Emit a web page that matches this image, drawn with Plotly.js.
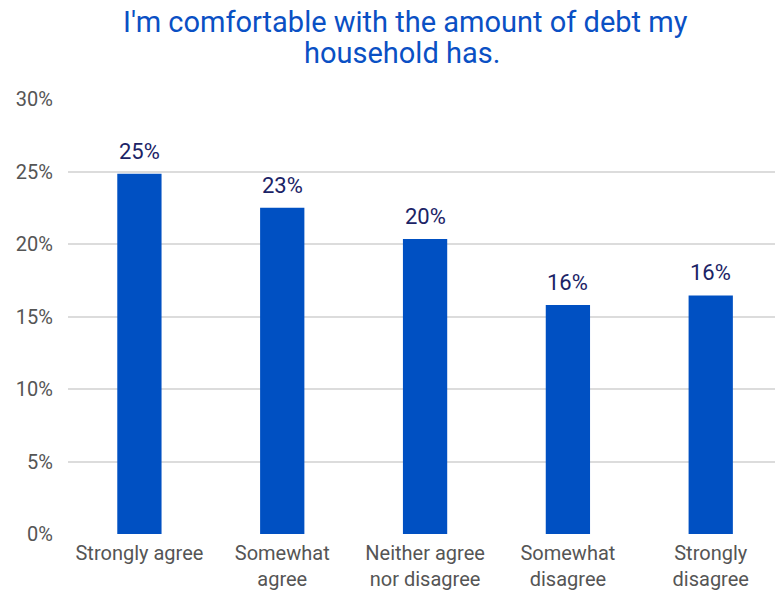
<!DOCTYPE html>
<html>
<head>
<meta charset="utf-8">
<script src="https://cdn.plot.ly/plotly-3.0.1.min.js"></script>
<style>body{margin:0;padding:0;background:#fff}#chart{width:775px;height:590px}</style>
</head>
<body>
<div id="chart"></div>
<script>
const categories = ["Strongly agree", "Somewhat<br>agree", "Neither agree<br>nor disagree", "Somewhat<br>disagree", "Strongly<br>disagree"];
const values = [24.85, 22.5, 20.35, 15.8, 16.45];
const valueLabels = ["25%", "23%", "20%", "16%", "16%"];
const yTicks = [0, 5, 10, 15, 20, 25, 30];
const yTickLabels = ["0%", "5%", "10%", "15%", "20%", "25%", "30%"];
const titleLines = ["I'm comfortable with the amount of debt my", "household has."];

const FONT = "Roboto, Arial, sans-serif";

const trace = {
  type: "bar",
  x: categories,
  y: values,
  marker: {color: "#0050c2"},
  hoverinfo: "none"
};

const annotations = categories.map((c, i) => ({
  x: c, y: values[i], xref: "x", yref: "y",
  text: valueLabels[i], showarrow: false,
  yanchor: "bottom", yshift: 8,
  font: {family: FONT, size: 22, color: "#1b2366"}
}));

const titlePos = [[0.478, 1.176], [0.4724, 1.105]];
titleLines.forEach((t, i) => annotations.push({
  x: titlePos[i][0], y: titlePos[i][1], xref: "paper", yref: "paper",
  xanchor: "center", yanchor: "middle",
  text: t, showarrow: false,
  font: {family: FONT, size: 29, color: "#0a50c4"}
}));

const layout = {
  width: 775, height: 590,
  margin: {l: 68, r: 0, t: 99, b: 56},
  paper_bgcolor: "#fff", plot_bgcolor: "#fff",
  bargap: 0.69,
  showlegend: false,
  annotations: annotations,
  xaxis: {
    range: [-0.5, 4.45],
    showgrid: false, zeroline: false, showline: false,
    ticks: "",
    ticklabelstandoff: 5,
    tickfont: {family: FONT, size: 20, color: "#555"}
  },
  yaxis: {
    range: [0, 30],
    tickvals: yTicks, ticktext: yTickLabels,
    showgrid: true, gridcolor: "#dcdcdc", gridwidth: 2,
    zeroline: false, showline: false, ticks: "",
    ticklabelstandoff: 14,
    tickfont: {family: FONT, size: 20, color: "#555"}
  }
};

Plotly.newPlot("chart", [trace], layout, {displayModeBar: false, staticPlot: true});
</script>
</body>
</html>
